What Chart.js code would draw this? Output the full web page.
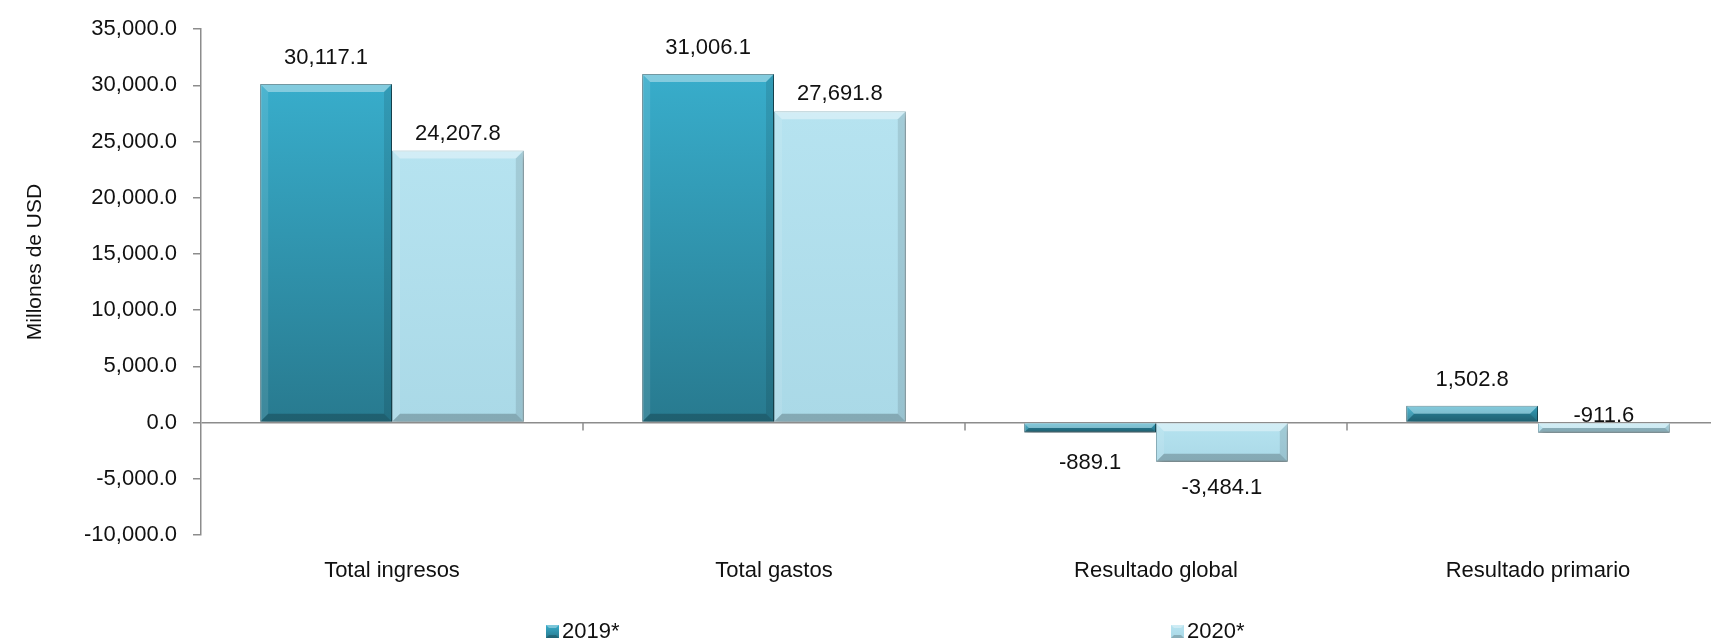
<!DOCTYPE html>
<html>
<head>
<meta charset="utf-8">
<script src="https://cdn.jsdelivr.net/npm/chart.js@4"></script>
<style>
    html, body { margin: 0; padding: 0; background: #fff; overflow: hidden; }
    canvas { display: block; }
</style>
</head>
<body>
<canvas id="resultadoCtx" width="1730" height="644"></canvas>
<script>
const categories = ['Total ingresos', 'Total gastos', 'Resultado global', 'Resultado primario'];
const seriesNames = ['2019*', '2020*'];
const values2019 = [30117.1, 31006.1, -889.1, 1502.8];
const values2020 = [24207.8, 27691.8, -3484.1, -911.6];
const yTicks = [-10000, -5000, 0, 5000, 10000, 15000, 20000, 25000, 30000, 35000];

const FONT = '"Liberation Sans", Arial, sans-serif';
const AXIS_GREY = '#8c8c8c';

// colours for each series: gradient top, gradient bottom, border
const palette = [
    { top: '#38adcb', bottom: '#287a8f', border: '#1f5c6c' },
    { top: '#b6e3f0', bottom: '#aad9e7', border: '#86b3c0' }
];

function fmt(v) {
    return v.toLocaleString('en-US', { minimumFractionDigits: 1, maximumFractionDigits: 1 });
}

function barGradient(dsIndex) {
    return function(context) {
        const chart = context.chart;
        const yScale = chart.scales.y;
        if (!chart.chartArea || !yScale || context.raw === undefined) { return palette[dsIndex].top; }
        const top = yScale.getPixelForValue(Math.max(context.raw, 0));
        const bottom = yScale.getPixelForValue(Math.min(context.raw, 0));
        const g = chart.ctx.createLinearGradient(0, top, 0, Math.max(bottom, top + 1));
        g.addColorStop(0, palette[dsIndex].top);
        g.addColorStop(1, palette[dsIndex].bottom);
        return g;
    };
}

// shadow, bevel and value labels on the bars
const bevelPlugin = {
    id: 'bevel',
    beforeDatasetsDraw(chart) {
        const c = chart.ctx;
        c.save();
        c.shadowColor = 'rgba(0,0,0,0.35)';
        c.shadowBlur = 7;
        c.shadowOffsetX = 2;
        c.shadowOffsetY = 4;
    },
    afterDatasetsDraw(chart) {
        const c = chart.ctx;
        c.restore();
        const yScale = chart.scales.y;
        const zeroY = yScale.getPixelForValue(0);

        chart.data.datasets.forEach((ds, di) => {
            chart.getDatasetMeta(di).data.forEach((bar, i) => {
                const p = bar.getProps(['x', 'y', 'base', 'width'], true);
                const l = p.x - p.width / 2, r = p.x + p.width / 2;
                const t = Math.min(p.y, p.base), b = Math.max(p.y, p.base);
                const h = b - t;
                const e = Math.min(8, h / 2, p.width / 2);
                const poly = (pts, col) => {
                    c.beginPath();
                    c.moveTo(pts[0][0], pts[0][1]);
                    pts.slice(1).forEach(q => c.lineTo(q[0], q[1]));
                    c.closePath();
                    c.fillStyle = col;
                    c.fill();
                };
                c.save();
                poly([[l, t], [r, t], [r - e, t + e], [l + e, t + e]], 'rgba(255,255,255,0.38)');
                poly([[l, t], [l + e, t + e], [l + e, b - e], [l, b]], 'rgba(255,255,255,0.10)');
                poly([[r, t], [r, b], [r - e, b - e], [r - e, t + e]], 'rgba(0,0,0,0.10)');
                poly([[l, b], [l + e, b - e], [r - e, b - e], [r, b]], 'rgba(0,0,0,0.22)');
                c.restore();

                // value label
                const v = ds.data[i];
                let ly;
                if (v >= 0) {
                    ly = t - (di === 0 ? 26 : 17);
                } else if (di === 1 && i === 3) {
                    ly = zeroY - 7;
                } else {
                    ly = b + (di === 0 ? 30 : 26);
                }
                c.save();
                c.font = '22px ' + FONT;
                c.fillStyle = '#111';
                c.textAlign = 'center';
                c.textBaseline = 'middle';
                c.fillText(fmt(v), p.x, ly);
                c.restore();
            });
        });

        // category separators on the zero line
        const xScale = chart.scales.x;
        c.save();
        c.strokeStyle = AXIS_GREY;
        c.lineWidth = 1.5;
        for (let i = 1; i < categories.length; i++) {
            const x = Math.round((xScale.getPixelForValue(i - 1) + xScale.getPixelForValue(i)) / 2);
            c.beginPath();
            c.moveTo(x, zeroY);
            c.lineTo(x, zeroY + 8);
            c.stroke();
        }
        c.restore();
    },
    afterDraw(chart) {
        const c = chart.ctx;
        // y axis title
        c.save();
        c.font = '21px ' + FONT;
        c.fillStyle = '#111';
        c.textAlign = 'center';
        c.textBaseline = 'middle';
        c.translate(35, 262);
        c.rotate(-Math.PI / 2);
        c.fillText('Millones de USD', 0, 0);
        c.restore();

        // legend
        const legendX = [546, 1171];
        seriesNames.forEach((name, k) => {
            const x = legendX[k], y = 625, s = 13;
            const g = c.createLinearGradient(0, y, 0, y + s);
            g.addColorStop(0, palette[k].top);
            g.addColorStop(1, palette[k].bottom);
            c.fillStyle = g;
            c.fillRect(x, y, s, s);
            c.fillStyle = 'rgba(255,255,255,0.35)';
            c.beginPath();
            c.moveTo(x, y); c.lineTo(x + s, y); c.lineTo(x + s - 3, y + 3); c.lineTo(x + 3, y + 3);
            c.closePath(); c.fill();
            c.fillStyle = 'rgba(0,0,0,0.2)';
            c.beginPath();
            c.moveTo(x, y + s); c.lineTo(x + 3, y + s - 3); c.lineTo(x + s - 3, y + s - 3); c.lineTo(x + s, y + s);
            c.closePath(); c.fill();
            c.font = '22px ' + FONT;
            c.fillStyle = '#111';
            c.textAlign = 'left';
            c.textBaseline = 'middle';
            c.fillText(name, x + s + 3, 632);
        });
    }
};

const resultadoCtx = document.getElementById('resultadoCtx');

new Chart(resultadoCtx, {
    type: 'bar',
    data: {
        labels: categories,
        datasets: [{
            label: seriesNames[0],
            data: values2019,
            backgroundColor: barGradient(0),
            borderColor: palette[0].border,
            borderWidth: 1,
            categoryPercentage: 0.69,
            barPercentage: 1.0
        },
        {
            label: seriesNames[1],
            data: values2020,
            backgroundColor: barGradient(1),
            borderColor: palette[1].border,
            borderWidth: 1,
            categoryPercentage: 0.69,
            barPercentage: 1.0
        }]
    },
    options: {
        responsive: false,
        animation: false,
        devicePixelRatio: 1,
        layout: { padding: { top: 25, right: 1, bottom: 59, left: 0 } },
        plugins: {
            legend: { display: false },
            tooltip: { enabled: false }
        },
        scales: {
            x: {
                grid: { display: false, drawTicks: false },
                border: { display: false },
                ticks: {
                    padding: 23,
                    color: '#111',
                    font: { family: FONT, size: 22 }
                },
                afterFit(scale) { scale.height = 50; }
            },
            y: {
                min: -10000,
                max: 35000,
                afterBuildTicks(scale) {
                    scale.ticks = yTicks.map(v => ({ value: v }));
                },
                border: { display: true, color: AXIS_GREY, width: 1.5 },
                grid: {
                    color: ctx => (ctx.tick && ctx.tick.value === 0) ? AXIS_GREY : 'rgba(0,0,0,0)',
                    lineWidth: 1.5,
                    tickColor: AXIS_GREY,
                    tickLength: 8
                },
                ticks: {
                    padding: 16,
                    color: '#111',
                    font: { family: FONT, size: 22 },
                    callback: function(value) {
                        return fmt(value);
                    }
                },
                afterFit(scale) { scale.width = 201; }
            }
        }
    },
    plugins: [bevelPlugin]
});
</script>
</body>
</html>
